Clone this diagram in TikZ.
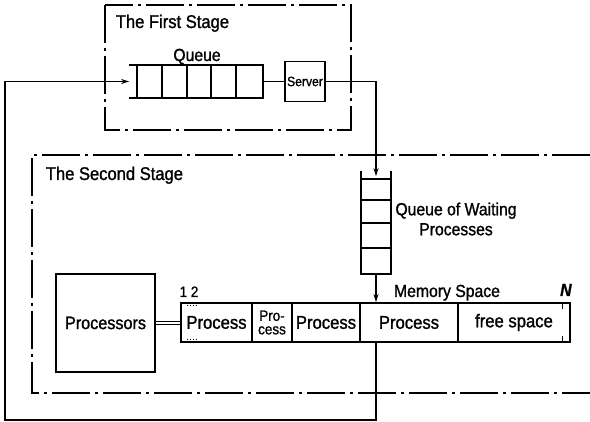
\documentclass[tikz,border=0pt]{standalone}
\usepackage{fontspec}
\setmainfont{Liberation Sans}[FakeStretch=0.9, FakeBold=1.2]
\usetikzlibrary{arrows.meta}
\begin{document}
\begin{tikzpicture}[x=1pt,y=-1pt, line width=1.7pt,
  stagebox/.style={line width=1.9pt, dash pattern=on 38pt off 5pt on 3pt off 5pt},
  lbl/.style={font=\fontsize{17.5}{20}\selectfont, inner sep=0},
  title/.style={font=\fontsize{18.4}{19}\selectfont, inner sep=0, anchor=base west},
  cell/.style={draw, minimum height=39pt, inner sep=0, font=\fontsize{18.5}{18}\selectfont},
  arr/.style={-{Stealth[length=8pt,width=5pt]}},
  tick/.style={line width=1pt, dotted},
]
\useasboundingbox (0,0) rectangle (590,422);

% ---- first stage
\draw[stagebox] (105,5) rectangle (351,130);
\node[title] (t1) at (115,28) {The First Stage};
\node[lbl, anchor=base] (qlab) at (197,61) {Queue};
\node[minimum width=132pt, minimum height=31pt, inner sep=0] (q1) at (196,81.5) {};
\draw (q1.north west) -- (q1.north east) -- (q1.south east) -- (q1.south west);
\foreach \d in {8,33,58,82,107}
  \draw ([xshift=\d pt]q1.north west) -- ([xshift=\d pt]q1.south west);
\node[draw, minimum size=40pt, inner sep=0, font=\fontsize{13.5}{13}\selectfont] (srv) at (305,81.5) {Server};
\draw (q1.east) -- (srv.west);

% ---- second stage
\draw[stagebox] (590,155) -- (32,155) -- (32,393) -- (590,393);
\node[title] (t2) at (45,180) {The Second Stage};

\node[minimum width=28pt, minimum height=101pt, inner sep=0] (q2) at (376,222.5) {};
\draw (q2.north west) -- (q2.south west) -- (q2.south east) -- (q2.north east);
\foreach \d in {8,29,52,77}
  \draw ([yshift=-\d pt]q2.north west) -- ([yshift=-\d pt]q2.north east);
\node[lbl, align=center] (wlab) at (456,219) {Queue of Waiting\\Processes};

\draw[arr] (srv.east) -| ([yshift=-5pt]q2.north);

% memory row
\node[cell, minimum width=71pt] (c1) at (216.5,322.5) {Process};
\node[cell, minimum width=40pt, align=center, font=\fontsize{15}{13.5}\selectfont] (c2) at (272,322.5) {Pro-\\cess};
\node[cell, minimum width=68pt] (c3) at (326,322.5) {Process};
\node[cell, minimum width=98pt] (c4) at (409,322.5) {Process};
\node[cell, minimum width=112pt] (c5) at (514,322.5) {free space};

\node[lbl, anchor=base, font=\fontsize{15}{16}\selectfont] (n12) at (189,297) {1 2};
\node[lbl, anchor=base] (mem) at (447,297) {Memory Space};
\node[lbl, anchor=base] (nlab) at (566,296) {\textbf{\textit{N}}};

\draw[tick] ([xshift=7pt,yshift=-3.5pt]c1.north west) -- ++(12,0);
\draw[tick] ([xshift=7pt,yshift=3.5pt]c1.south west) -- ++(12,0);
\draw[line width=1.2pt] ([xshift=-8pt,yshift=-2pt]c5.north east) -- ++(0,5);
\draw[line width=1.2pt] ([xshift=-8pt,yshift=2pt]c5.south east) -- ++(0,-5);

\draw[arr] (q2.south) -- (q2.south |- c4.north);

% processors
\node[draw, minimum width=99pt, minimum height=98pt, inner sep=0, font=\fontsize{18}{18}\selectfont] (proc) at (105.5,323) {Processors};
\draw[double, line width=0.9pt, double distance=2.2pt] (proc.east) -- (proc.east -| c1.west);

% feedback loop
\coordinate (corner) at (5,420);
\draw[arr] (q2.center |- c4.south) -- (q2.center |- corner) -- (corner) -- (corner |- q1.west) -- (q1.west);
\end{tikzpicture}
\end{document}
